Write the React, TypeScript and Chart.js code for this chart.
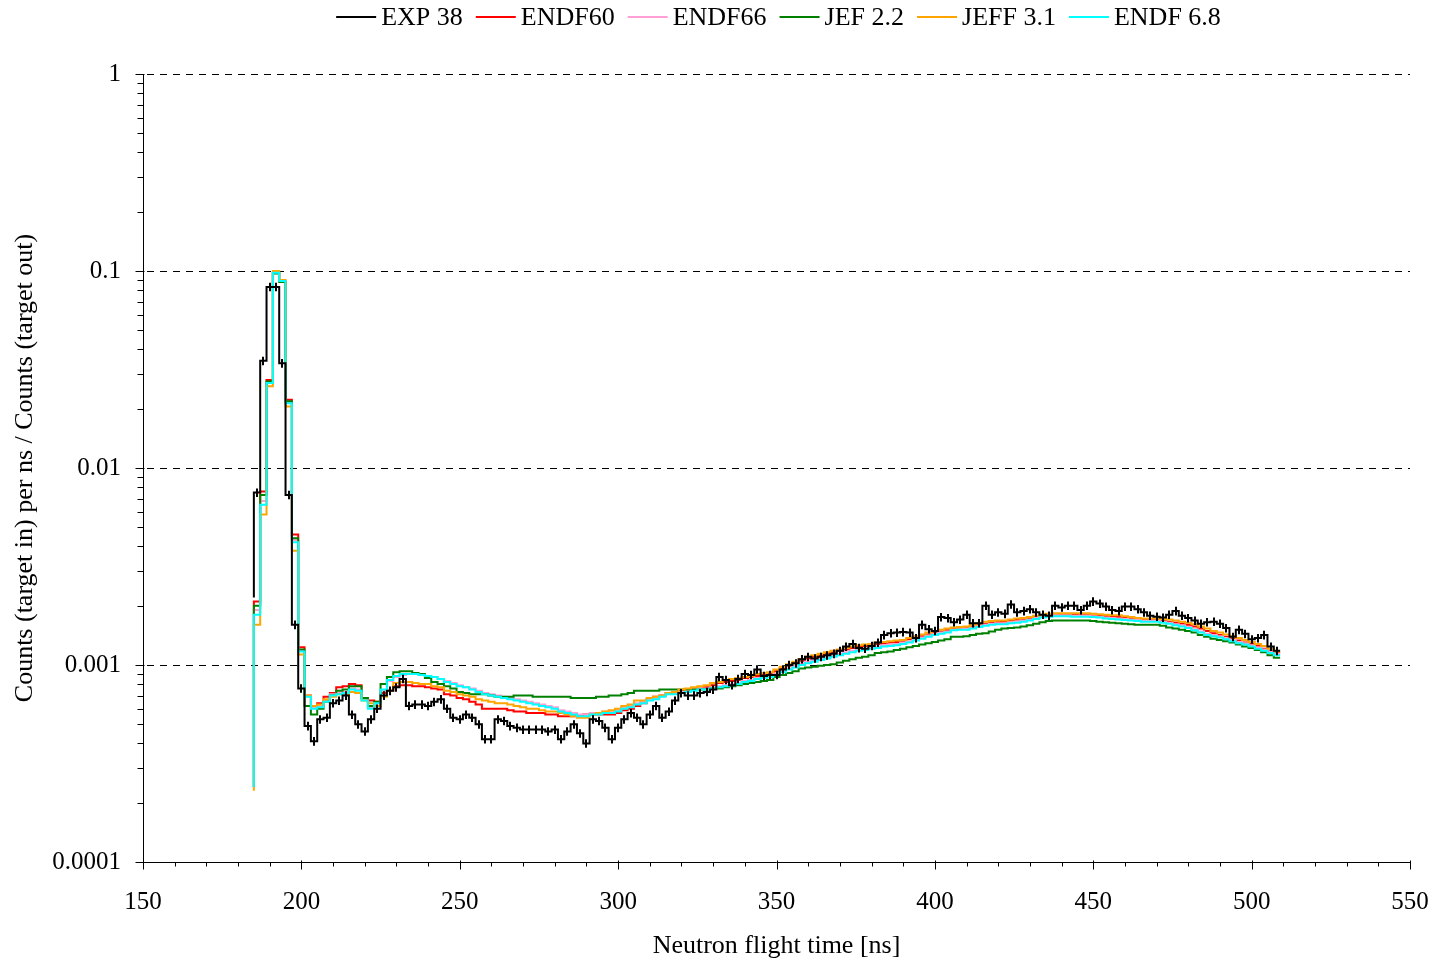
import React, { useEffect, useRef } from 'react';
import { Chart, registerables } from 'chart.js';

Chart.register(...registerables);

const FONT = '"Liberation Serif", "Times New Roman", serif';

// Histogram bins: left edges start at 185 ns, 2 ns wide
const BIN_START_NS = 185;
const BIN_WIDTH_NS = 2;

const SERIES_LABELS = ['EXP 38', 'ENDF60', 'ENDF66', 'JEF 2.2', 'JEFF 3.1', 'ENDF 6.8'];
const SERIES_COLORS = ['#000000', '#ff0000', '#ff9fd5', '#008000', '#ffa500', '#00ffff'];
const SERIES_ORDER = [0, 5, 4, 3, 2, 1];
// value at the very start of each histogram (left edge, before first bin)
const LEAD_VALUES = [0.0022, 0.00024, 0.00024, 0.00024, 0.00023, 0.00024];

const EXP_38 = [
  0.0075, 0.035, 0.083, 0.083, 0.034, 0.0073, 0.0016, 0.00076, 0.00049, 0.00041,
  0.00053, 0.00054, 0.00064, 0.00066, 0.0007, 0.00056, 0.0005, 0.00046, 0.00053, 0.0006,
  0.0007, 0.00074, 0.00077, 0.00085, 0.00062, 0.00063, 0.00063, 0.00062, 0.00065, 0.00067,
  0.0006, 0.00054, 0.00053, 0.00056, 0.00054, 0.0005, 0.00042, 0.00042, 0.00053, 0.00052,
  0.00049, 0.00048, 0.00047, 0.00047, 0.00047, 0.00047, 0.00046, 0.00047, 0.00042, 0.00046,
  0.0005, 0.00045, 0.0004, 0.00053, 0.00052, 0.00048, 0.00042, 0.00048, 0.00053, 0.00057,
  0.00054, 0.0005, 0.00056, 0.00062, 0.00054, 0.00058, 0.00066, 0.00072, 0.0007, 0.0007,
  0.00072, 0.00073, 0.00075, 0.00087, 0.00084, 0.00079, 0.00085, 0.0009, 0.00089, 0.00095,
  0.00088, 0.00089, 0.00089, 0.00095, 0.001, 0.00102, 0.00107, 0.0011, 0.00108, 0.0011,
  0.00112, 0.00114, 0.00118, 0.00124, 0.00128, 0.00122, 0.00121, 0.00125, 0.0013, 0.00142,
  0.00145, 0.00146, 0.00147, 0.00146, 0.00137, 0.0016, 0.00152, 0.00149, 0.00175, 0.00173,
  0.00165, 0.0017, 0.0018, 0.00163, 0.00163, 0.002, 0.0018, 0.00185, 0.00182, 0.00203,
  0.00185, 0.00188, 0.00192, 0.00185, 0.0018, 0.00178, 0.002, 0.00196, 0.002, 0.002,
  0.0019, 0.002, 0.0021, 0.00205, 0.00198, 0.0019, 0.00188, 0.00198, 0.00198, 0.00192,
  0.00185, 0.00178, 0.00176, 0.00174, 0.0018, 0.00188, 0.00178, 0.00173, 0.00168, 0.00162,
  0.00165, 0.00166, 0.00162, 0.00154, 0.00139, 0.00151, 0.00144, 0.00135, 0.00137, 0.00142,
  0.00124, 0.00118,
];

const ENDF60 = [
  0.0021, 0.0076, 0.028, 0.098, 0.089, 0.0222, 0.0046, 0.00123, 0.0007, 0.00062,
  0.00064, 0.00069, 0.00072, 0.00077, 0.00078, 0.0008, 0.00079, 0.00068, 0.00066, 0.00065,
  0.00072, 0.00074, 0.00078, 0.00079, 0.00079, 0.00078, 0.00078, 0.00077, 0.00076, 0.00075,
  0.00071, 0.0007, 0.00068, 0.00067, 0.00065, 0.00063, 0.0006, 0.0006, 0.0006, 0.0006,
  0.00059, 0.00058, 0.00058, 0.00057, 0.00057, 0.00057, 0.00056, 0.00056, 0.00055, 0.00055,
  0.00055, 0.00055, 0.00056, 0.00056, 0.00056, 0.00056, 0.00056, 0.00057, 0.00059, 0.0006,
  0.00062, 0.00064, 0.00067, 0.00069, 0.0007, 0.00072, 0.00073, 0.00074, 0.00075, 0.00075,
  0.00076, 0.00077, 0.00079, 0.00081, 0.00082, 0.00083, 0.00084, 0.00086, 0.00087, 0.00088,
  0.00089, 0.0009, 0.00093, 0.00096, 0.00099, 0.00102, 0.00105, 0.00108, 0.0011, 0.00112,
  0.00114, 0.00116, 0.00118, 0.0012, 0.00122, 0.00124, 0.00125, 0.00126, 0.00128, 0.00129,
  0.0013, 0.00131, 0.00132, 0.00135, 0.00138, 0.0014, 0.00143, 0.00146, 0.00148, 0.0015,
  0.00152, 0.00153, 0.00154, 0.00157, 0.0016, 0.00162, 0.00164, 0.00165, 0.00166, 0.00168,
  0.0017, 0.00171, 0.00173, 0.00175, 0.00177, 0.00178, 0.00179, 0.0018, 0.0018, 0.0018,
  0.00179, 0.00179, 0.00178, 0.00178, 0.00177, 0.00176, 0.00175, 0.00173, 0.00171, 0.0017,
  0.00169, 0.0017, 0.0017, 0.00168, 0.00166, 0.00164, 0.00162, 0.0016, 0.00157, 0.00153,
  0.00149, 0.00145, 0.00142, 0.00139, 0.00136, 0.00133, 0.0013, 0.00128, 0.00125, 0.00121,
  0.00118, 0.00115,
];

const ENDF66 = [
  0.0019, 0.0068, 0.0272, 0.098, 0.089, 0.0215, 0.0043, 0.00118, 0.0007, 0.00061,
  0.00062, 0.00066, 0.00071, 0.00072, 0.00073, 0.00076, 0.00075, 0.00067, 0.00061, 0.00064,
  0.00074, 0.00083, 0.00087, 0.00089, 0.0009, 0.0009, 0.00089, 0.00088, 0.00087, 0.00085,
  0.00083, 0.00081, 0.00079, 0.00077, 0.00076, 0.00074, 0.00072, 0.00071, 0.0007, 0.00069,
  0.00068, 0.00067, 0.00066, 0.00065, 0.00064, 0.00063, 0.00062, 0.00061, 0.00059, 0.00058,
  0.00057, 0.00056, 0.00056, 0.00057, 0.00057, 0.00058, 0.00058, 0.00059, 0.00061, 0.00062,
  0.00064, 0.00065, 0.00067, 0.00068, 0.0007, 0.00072, 0.00072, 0.00073, 0.00074, 0.00075,
  0.00076, 0.00076, 0.00077, 0.00078, 0.00079, 0.0008, 0.00081, 0.00083, 0.00084, 0.00086,
  0.00087, 0.00088, 0.0009, 0.00093, 0.00096, 0.00099, 0.00102, 0.00104, 0.00106, 0.00108,
  0.0011, 0.00112, 0.00114, 0.00116, 0.00118, 0.0012, 0.00121, 0.00123, 0.00124, 0.00126,
  0.00127, 0.00128, 0.0013, 0.00132, 0.00135, 0.00138, 0.00141, 0.00144, 0.00146, 0.00148,
  0.00151, 0.00152, 0.00153, 0.00155, 0.00158, 0.0016, 0.00162, 0.00163, 0.00163, 0.00165,
  0.00166, 0.00168, 0.0017, 0.00173, 0.00176, 0.00178, 0.00179, 0.00179, 0.00179, 0.00178,
  0.00178, 0.00178, 0.00177, 0.00176, 0.00174, 0.00173, 0.00172, 0.00171, 0.0017, 0.00169,
  0.00168, 0.00168, 0.00168, 0.00166, 0.00164, 0.00161, 0.00159, 0.00156, 0.00152, 0.00148,
  0.00144, 0.00142, 0.0014, 0.00137, 0.00134, 0.00131, 0.00129, 0.00126, 0.00123, 0.0012,
  0.00117, 0.00114,
];

const JEF22 = [
  0.002, 0.0073, 0.0275, 0.097, 0.088, 0.0218, 0.0044, 0.0012, 0.00062, 0.00056,
  0.0006, 0.00065, 0.0007, 0.00074, 0.00075, 0.00078, 0.00078, 0.00068, 0.00062, 0.00065,
  0.0008, 0.00087, 0.00092, 0.00093, 0.00093, 0.00091, 0.0009, 0.00086, 0.00082, 0.0008,
  0.00078, 0.00076, 0.00073, 0.00072, 0.00071, 0.00071, 0.00071, 0.0007, 0.00069, 0.00069,
  0.00069, 0.0007, 0.0007, 0.0007, 0.00069, 0.00069, 0.00069, 0.00069, 0.00069, 0.00069,
  0.00068, 0.00068, 0.00068, 0.00068, 0.00069, 0.00069, 0.0007, 0.0007, 0.00071, 0.00072,
  0.00074, 0.00074, 0.00074, 0.00074, 0.00075, 0.00075, 0.00075, 0.00075, 0.00075, 0.00075,
  0.00075, 0.00075, 0.00076, 0.00076, 0.00077, 0.00078, 0.00079, 0.0008, 0.00081, 0.00082,
  0.00083, 0.00084, 0.00087, 0.00089, 0.00091, 0.00093, 0.00096, 0.00097, 0.00098, 0.00099,
  0.001, 0.00101, 0.00103, 0.00105, 0.00107, 0.00109, 0.0011, 0.00112, 0.00115, 0.00116,
  0.00117, 0.00119, 0.00121, 0.00123, 0.00125, 0.00127, 0.00129, 0.00131, 0.00133, 0.00135,
  0.00139, 0.00139, 0.0014, 0.00142, 0.00144, 0.00145, 0.00148, 0.00151, 0.00153, 0.00154,
  0.00155, 0.00157, 0.00159, 0.00162, 0.00165, 0.00167, 0.00168, 0.00168, 0.00168, 0.00168,
  0.00168, 0.00168, 0.00167, 0.00166, 0.00165, 0.00164, 0.00163, 0.00162, 0.00161, 0.0016,
  0.0016, 0.0016, 0.0016, 0.00158, 0.00155, 0.00153, 0.00151, 0.00149, 0.00146, 0.00142,
  0.00139, 0.00136, 0.00134, 0.00132, 0.0013, 0.00127, 0.00124, 0.00122, 0.00119, 0.00116,
  0.00112, 0.00109,
];

const JEFF31 = [
  0.0016, 0.0058, 0.026, 0.1, 0.09, 0.0205, 0.0038, 0.00113, 0.0007, 0.00062,
  0.00063, 0.00067, 0.00069, 0.00071, 0.00071, 0.00073, 0.00072, 0.00066, 0.00064, 0.00062,
  0.00069, 0.00074, 0.00081, 0.00082, 0.00082, 0.00081, 0.0008, 0.0008, 0.00078, 0.00077,
  0.00074, 0.00073, 0.00071, 0.0007, 0.00069, 0.00067, 0.00066, 0.00065, 0.00064, 0.00064,
  0.00063, 0.00062, 0.00061, 0.0006, 0.0006, 0.00059, 0.00058, 0.00058, 0.00057, 0.00056,
  0.00055, 0.00054, 0.00054, 0.00056, 0.00057, 0.00058, 0.00059, 0.0006, 0.00062, 0.00063,
  0.00066, 0.00066, 0.00068, 0.00069, 0.0007, 0.00072, 0.00073, 0.00075, 0.00076, 0.00077,
  0.00078, 0.00079, 0.00081, 0.00082, 0.00084, 0.00085, 0.00086, 0.00087, 0.00088, 0.0009,
  0.00091, 0.00092, 0.00095, 0.00098, 0.00101, 0.00104, 0.00107, 0.0011, 0.00112, 0.00114,
  0.00116, 0.00118, 0.0012, 0.00122, 0.00124, 0.00126, 0.00127, 0.00128, 0.0013, 0.00131,
  0.00132, 0.00133, 0.00134, 0.00137, 0.0014, 0.00143, 0.00146, 0.00149, 0.00151, 0.00153,
  0.00155, 0.00156, 0.00157, 0.0016, 0.00163, 0.00166, 0.00167, 0.00168, 0.00168, 0.0017,
  0.00172, 0.00173, 0.00175, 0.00178, 0.0018, 0.00182, 0.00183, 0.00183, 0.00183, 0.00183,
  0.00183, 0.00183, 0.00182, 0.00181, 0.0018, 0.00179, 0.00179, 0.00177, 0.00175, 0.00173,
  0.00172, 0.00172, 0.00172, 0.00171, 0.0017, 0.00168, 0.00166, 0.00164, 0.00161, 0.00157,
  0.00153, 0.00149, 0.00146, 0.00143, 0.0014, 0.00137, 0.00134, 0.00131, 0.00128, 0.00125,
  0.00121, 0.00117,
];

const ENDF68 = [
  0.0018, 0.0065, 0.027, 0.098, 0.089, 0.0213, 0.0042, 0.00117, 0.00069, 0.0006,
  0.00061, 0.00065, 0.0007, 0.00071, 0.00072, 0.00075, 0.00074, 0.00066, 0.0006, 0.00064,
  0.00075, 0.00084, 0.00088, 0.0009, 0.0009, 0.0009, 0.00089, 0.00088, 0.00087, 0.00085,
  0.00082, 0.0008, 0.00078, 0.00077, 0.00075, 0.00073, 0.00071, 0.0007, 0.00069, 0.00068,
  0.00067, 0.00066, 0.00065, 0.00064, 0.00063, 0.00062, 0.00061, 0.0006, 0.00058, 0.00057,
  0.00056, 0.00055, 0.00055, 0.00056, 0.00056, 0.00057, 0.00057, 0.00058, 0.0006, 0.00061,
  0.00063, 0.00064, 0.00066, 0.00067, 0.00069, 0.00071, 0.00071, 0.00072, 0.00073, 0.00074,
  0.00075, 0.00075, 0.00076, 0.00077, 0.00078, 0.00079, 0.0008, 0.00082, 0.00083, 0.00085,
  0.00086, 0.00087, 0.00089, 0.00092, 0.00095, 0.00097, 0.001, 0.00102, 0.00104, 0.00106,
  0.00108, 0.0011, 0.00112, 0.00114, 0.00116, 0.00118, 0.00119, 0.00121, 0.00122, 0.00124,
  0.00125, 0.00126, 0.00128, 0.0013, 0.00133, 0.00136, 0.00139, 0.00142, 0.00144, 0.00146,
  0.0015, 0.00151, 0.00151, 0.00153, 0.00156, 0.00158, 0.0016, 0.00161, 0.00161, 0.00163,
  0.00164, 0.00166, 0.00168, 0.00171, 0.00174, 0.00176, 0.00177, 0.00177, 0.00177, 0.00176,
  0.00176, 0.00176, 0.00175, 0.00174, 0.00172, 0.00171, 0.0017, 0.00169, 0.00168, 0.00167,
  0.00166, 0.00166, 0.00166, 0.00164, 0.00162, 0.00159, 0.00157, 0.00154, 0.0015, 0.00146,
  0.00142, 0.0014, 0.00138, 0.00135, 0.00132, 0.00129, 0.00127, 0.00124, 0.00121, 0.00118,
  0.00115, 0.00112,
];

const SERIES_VALUES = [EXP_38, ENDF60, ENDF66, JEF22, JEFF31, ENDF68];

// relative statistical error drawn on the experimental histogram
const EXP_REL_ERROR = 0.05;

const X_MIN = 150;
const X_MAX = 550;
const X_TICK_VALUES = [150, 200, 250, 300, 350, 400, 450, 500, 550];
const X_MINOR_STEP = 10;
const Y_TICK_VALUES = [0.0001, 0.001, 0.01, 0.1, 1];
const Y_TICK_LABELS = ['0.0001', '0.001', '0.01', '0.1', '1'];
const Y_GRID_VALUES = [0.001, 0.01, 0.1, 1];

const X_TITLE = 'Neutron flight time [ns]';
const Y_TITLE = 'Counts (target in) per ns / Counts (target out)';

function stepPoints(values: number[], lead: number) {
  const pts: { x: number; y: number }[] = [{ x: BIN_START_NS, y: lead }];
  values.forEach((v, i) => pts.push({ x: BIN_START_NS + i * BIN_WIDTH_NS, y: v }));
  pts.push({ x: BIN_START_NS + values.length * BIN_WIDTH_NS, y: values[values.length - 1] });
  return pts;
}

const decorPlugin = {
  id: 'decor',
  beforeDatasetsDraw(chart: any) {
    const { ctx, chartArea: a, scales } = chart;
    const y = scales.y;
    ctx.save();
    ctx.strokeStyle = '#000';
    ctx.lineWidth = 1.2;
    ctx.setLineDash([7, 6]);
    for (const v of Y_GRID_VALUES) {
      const py = Math.round(y.getPixelForValue(v)) + 0.5;
      ctx.beginPath();
      ctx.moveTo(a.left + 4, py);
      ctx.lineTo(a.right, py);
      ctx.stroke();
    }
    ctx.restore();
  },
  afterDatasetsDraw(chart: any) {
    const { ctx, scales } = chart;
    const x = scales.x;
    const y = scales.y;
    ctx.save();
    ctx.strokeStyle = '#000';
    ctx.lineWidth = 2;
    EXP_38.forEach((v, i) => {
      const cx = Math.round(x.getPixelForValue(BIN_START_NS + (i + 0.5) * BIN_WIDTH_NS));
      const y1 = y.getPixelForValue(v * (1 + EXP_REL_ERROR));
      const y2 = y.getPixelForValue(v * (1 - EXP_REL_ERROR));
      ctx.beginPath();
      ctx.moveTo(cx, y1);
      ctx.lineTo(cx, y2);
      ctx.stroke();
    });
    ctx.restore();
  },
  afterDraw(chart: any) {
    const { ctx, chartArea: a, scales } = chart;
    const x = scales.x;
    const y = scales.y;
    ctx.save();
    ctx.strokeStyle = '#000';
    ctx.lineWidth = 1;
    const L = Math.round(a.left) + 0.5;
    const B = Math.round(a.bottom) + 0.5;
    // axis lines
    ctx.beginPath();
    ctx.moveTo(L, Math.round(a.top));
    ctx.lineTo(L, B);
    ctx.lineTo(Math.round(a.right), B);
    ctx.stroke();
    // x ticks
    for (let v = X_MIN; v <= X_MAX; v += X_MINOR_STEP) {
      const px = Math.round(x.getPixelForValue(v)) + 0.5;
      const major = X_TICK_VALUES.includes(v);
      ctx.beginPath();
      ctx.moveTo(px, major ? B - 2 : B);
      ctx.lineTo(px, major ? B + 7 : B + 4);
      ctx.stroke();
    }
    // y ticks
    for (let d = 0; d < Y_TICK_VALUES.length; d++) {
      const base = Y_TICK_VALUES[d];
      const pm = Math.round(y.getPixelForValue(base)) + 0.5;
      ctx.beginPath();
      ctx.moveTo(L - 8, pm);
      ctx.lineTo(L + 1, pm);
      ctx.stroke();
      if (d < Y_TICK_VALUES.length - 1) {
        for (let m = 2; m <= 9; m++) {
          const pyv = Math.round(y.getPixelForValue(base * m)) + 0.5;
          ctx.beginPath();
          ctx.moveTo(L - 6, pyv);
          ctx.lineTo(L, pyv);
          ctx.stroke();
        }
      }
    }
    // legend
    ctx.font = `26px ${FONT}`;
    const LINE_W = 40;
    const TEXT_GAP = 5;
    const ITEM_GAP = 13;
    const items = chart.data.datasets.map((ds: any) => ({
      text: ds.label as string,
      color: ds.borderColor as string,
      w: ctx.measureText(ds.label).width,
    }));
    const total =
      items.reduce((s: number, it: any) => s + LINE_W + TEXT_GAP + it.w, 0) + ITEM_GAP * (items.length - 1);
    let lx = (a.left + a.right) / 2 + 2 - total / 2;
    ctx.textAlign = 'left';
    ctx.textBaseline = 'alphabetic';
    for (const it of items) {
      ctx.strokeStyle = it.color;
      ctx.lineWidth = 2;
      ctx.beginPath();
      ctx.moveTo(lx, 17);
      ctx.lineTo(lx + LINE_W, 17);
      ctx.stroke();
      ctx.fillStyle = '#000';
      ctx.fillText(it.text, lx + LINE_W + TEXT_GAP, 25);
      lx += LINE_W + TEXT_GAP + it.w + ITEM_GAP;
    }
    ctx.restore();
  },
};

export default function App() {
  const canvasRef = useRef<HTMLCanvasElement | null>(null);

  useEffect(() => {
    const canvas = canvasRef.current;
    if (!canvas) return;
    const datasets = SERIES_LABELS.map((label, i) => ({
      label,
      data: stepPoints(SERIES_VALUES[i], LEAD_VALUES[i]),
      borderColor: SERIES_COLORS[i],
      backgroundColor: SERIES_COLORS[i],
      borderWidth: 2,
      stepped: 'before' as const,
      pointRadius: 0,
      fill: false,
      order: SERIES_ORDER[i],
    }));

    const chart = new Chart(canvas, {
      type: 'line',
      data: { datasets },
      options: {
        animation: false,
        responsive: false,
        devicePixelRatio: 1,
        events: [],
        layout: { padding: { top: 74, right: 25, left: 0, bottom: 0 } },
        plugins: { legend: { display: false }, tooltip: { enabled: false } },
        scales: {
          x: {
            type: 'linear',
            min: X_MIN,
            max: X_MAX,
            afterFit(scale: any) {
              scale.height = 98;
              scale.paddingLeft = 0;
              scale.paddingRight = 0;
            },
            afterBuildTicks(scale: any) {
              scale.ticks = X_TICK_VALUES.map((v) => ({ value: v }));
            },
            grid: { display: false, drawTicks: false },
            border: { display: false },
            ticks: {
              font: { family: FONT, size: 25 },
              color: '#000',
              padding: 25,
              maxRotation: 0,
              autoSkip: false,
              callback: (v: any) => String(v),
            },
            title: {
              display: true,
              text: X_TITLE,
              font: { family: FONT, size: 26 },
              color: '#000',
              padding: { top: 0, bottom: -2 },
            },
          },
          y: {
            type: 'logarithmic',
            min: 0.0001,
            max: 1,
            afterFit(scale: any) {
              scale.width = 143;
              scale.paddingTop = 0;
              scale.paddingBottom = 0;
            },
            afterBuildTicks(scale: any) {
              scale.ticks = Y_TICK_VALUES.map((v) => ({ value: v }));
            },
            grid: { display: false, drawTicks: false },
            border: { display: false },
            ticks: {
              font: { family: FONT, size: 25 },
              color: '#000',
              padding: 22,
              autoSkip: false,
              callback: (_v: any, idx: number) => Y_TICK_LABELS[idx],
            },
            title: {
              display: true,
              text: Y_TITLE,
              font: { family: FONT, size: 26 },
              color: '#000',
              padding: { top: 10, bottom: 0 },
            },
          },
        },
      } as any,
      plugins: [decorPlugin],
    });
    return () => chart.destroy();
  }, []);

  return (
    <div style={{ position: 'absolute', left: 0, top: 0, width: 1435, height: 960 }}>
      <canvas ref={canvasRef} width={1435} height={960} style={{ display: 'block' }} />
    </div>
  );
}
